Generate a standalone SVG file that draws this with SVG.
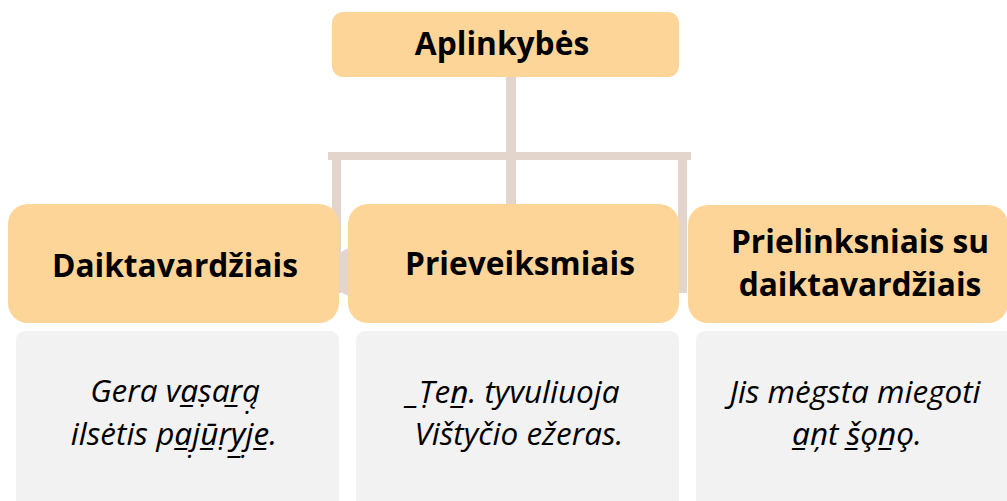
<svg xmlns="http://www.w3.org/2000/svg" width="1007" height="501" viewBox="0 0 1007 501">
<style>
.hd{fill:#FED598}
.bd{fill:#F2F2F2}
.ht{font-family:"Open Sans","Noto Sans","DejaVu Sans",sans-serif;font-weight:bold;font-size:31.7px;fill:#000;text-anchor:middle}
.it{font-family:"Open Sans","Noto Sans","DejaVu Sans",sans-serif;font-style:italic;font-size:31.5px;fill:#000;text-anchor:middle}
.cn{fill:#E3D5CC}
</style>
<rect width="1007" height="501" fill="#FFFFFF"/>
<g id="connectors">
<rect class="cn" x="506" y="70" width="10" height="90"/>
<rect class="cn" x="328" y="152" width="363" height="8"/>
<rect class="cn" x="332" y="152" width="9" height="141"/>
<rect class="cn" x="506" y="152" width="10" height="141"/>
<rect class="cn" x="678" y="152" width="9" height="141"/>
<circle class="cn" cx="356" cy="272" r="25"/>
</g>
<g id="node-aplinkybes">
<rect class="hd" x="332" y="12" width="347" height="65" rx="11"/>
<text class="ht" x="502" y="55">Aplinkybės</text>
</g>
<g id="node-daiktavardziais">
<rect class="hd" x="8" y="204" width="331" height="119" rx="20"/>
<text class="ht" x="175" y="277">Daiktavardžiais</text>
</g>
<g id="node-prieveiksmiais">
<rect class="hd" x="348" y="204" width="331" height="119" rx="20"/>
<text class="ht" x="520" y="275">Prieveiksmiais</text>
</g>
<g id="node-prielinksniais">
<rect class="hd" x="688" y="205" width="320" height="118" rx="20"/>
<text class="ht" x="860" y="253">Prielinksniais su</text>
<text class="ht" x="860" y="296">daiktavardžiais</text>
</g>
<g id="example-1">
<rect class="bd" x="16" y="331" width="323" height="190" rx="9"/>
<text class="it" x="175" y="402">Gera va̲ṣar̲ą̣</text>
<text class="it" x="174" y="445">ilsėtis pa̲j̣ū̲ṛy̲j̣e̲.</text>
</g>
<g id="example-2">
<rect class="bd" x="356" y="331" width="323" height="190" rx="9"/>
<text class="it" x="513" y="403">_Ṭen̲. tyvuliuoja</text>
<text class="it" x="519" y="445">Vištyčio ežeras.</text>
</g>
<g id="example-3">
<rect class="bd" x="696" y="331" width="330" height="190" rx="9"/>
<text class="it" x="855" y="403">Jis mėgsta miegoti</text>
<text class="it" x="857" y="445">a̲ņt š̲o̧n̲o̧.</text>
</g>
</svg>
